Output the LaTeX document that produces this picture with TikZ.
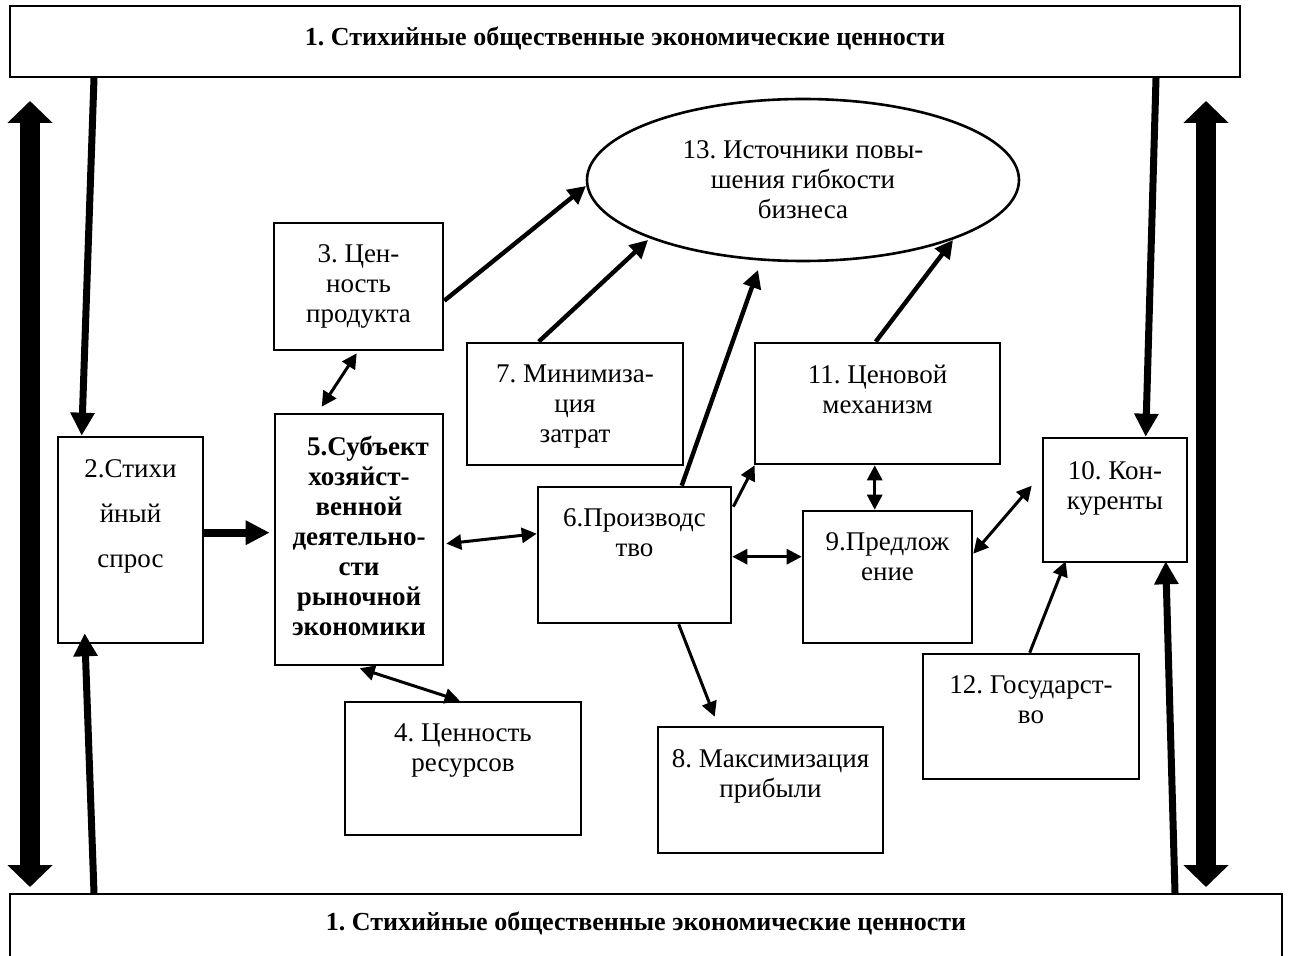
\documentclass[tikz,border=0pt]{standalone}
\usepackage{fontspec}
\setmainfont{Liberation Serif}
\usetikzlibrary{arrows.meta,fit,calc,shapes.geometric}
\frenchspacing
\newcommand\myfs{\fontsize{13.5pt}{15pt}\selectfont}
\newcommand\myfswide{\fontsize{13.5pt}{22.5pt}\selectfont}
\begin{document}
\begin{tikzpicture}[x=0.5pt,y=-0.5pt,
  box/.style={draw, line width=1.3pt, inner sep=0pt, fit={#1}},
  bigbox/.style={draw, line width=1pt, inner sep=0pt, fit={#1}},
  lab/.style={anchor=north, inner sep=0pt, align=center, font=\myfs, yshift=-11.5pt},
  labwide/.style={anchor=north, inner sep=0pt, align=center, font=\myfswide, yshift=-11.5pt},
  harr/.style={line width=3.5pt, -{Triangle[width=11.5pt,length=11.5pt]}},
  tarr/.style={line width=1.5pt, -{Triangle[width=7.5pt,length=7.5pt]}},
  tboth/.style={line width=1.5pt, {Triangle[width=7.5pt,length=7.5pt]}-{Triangle[width=7.5pt,length=7.5pt]}},
  marr/.style={line width=2.2pt, -{Triangle[width=9pt,length=9pt]}},
  fatboth/.style={line width=10pt, {Triangle[width=22pt,length=11pt]}-{Triangle[width=22pt,length=11pt]}},
  push/.style={line width=4pt, -{Triangle[width=11.5pt,length=12pt]}}
]
\clip (0,0) rectangle (1289,956);
\fill[white] (0,0) rectangle (1289,956);

% big boxes
\node[bigbox={(10,6) (1240,77)}, label={[lab,name=t1,yshift=1pt,font=\fontsize{13pt}{15pt}\selectfont\bfseries]north:1. Стихийные общественные экономические ценности}] (b1) {};
\node[bigbox={(10,894) (1282,990)}, label={[lab,name=t1b,yshift=2.5pt,font=\fontsize{13pt}{15pt}\selectfont\bfseries]north:1. Стихийные общественные экономические ценности}] (b1b) {};

% boxes
\node[box={(58,437) (203,643)}, label={[labwide,name=t2,yshift=-0.5pt]north:2.Стихи\\йный\\спрос}] (b2) {};
\node[box={(274,223) (443,350)}, label={[lab,name=t3]north:3. Цен-\\ность\\продукта}] (b3) {};
\node[box={(275,414) (443,665)}, label={[lab,name=t5,font=\myfs\bfseries]north:\hspace*{9pt}5.Субъект\\хозяйст-\\венной\\деятельно-\\сти\\рыночной\\экономики}] (b5) {};
\node[box={(345,702) (581,835)}, label={[lab,name=t4]north:4. Ценность\\ресурсов}] (b4) {};
\node[box={(538,487) (731,623)}, label={[lab,name=t6]north:6.Производс\\тво}] (b6) {};
\node[box={(467,343) (683,465)}, label={[lab,name=t7]north:7. Минимиза-\\ция\\затрат}] (b7) {};
\node[box={(658,727) (883,853)}, label={[lab,name=t8]north:8. Максимизация\\прибыли}] (b8) {};
\node[box={(803,511) (972,643)}, label={[lab,name=t9]north:9.Предлож\\ение}] (b9) {};
\node[box={(1043,438) (1187,562)}, label={[lab,name=t10,yshift=-0.5pt]north:10. Кон-\\куренты}] (b10) {};
\node[box={(755,343) (1000,464)}, label={[lab,name=t11]north:11. Ценовой\\механизм}] (b11) {};
\node[box={(923,654) (1139,779)}, label={[lab,name=t12]north:12. Государст-\\во}] (b12) {};
\node[draw, ellipse, line width=1.3pt, inner sep=0pt, minimum width=216pt, minimum height=81pt, align=center, font=\myfs] (e13) at (803,180) {13. Источники повы-\\шения гибкости\\бизнеса};

% free ends of the thick vertical arrows
\coordinate (lt) at (30,101);
\coordinate (lb) at (30,887);
\coordinate (rt) at (1206,101);
\coordinate (rb) at (1206,887);
\draw[fatboth] (lt) -- (lb);
\draw[fatboth] (rt) -- (rb);

% from/to big boxes
\draw[harr] ($(b1.south west)+(85,0)$) -- ($(b2.north west)+(25,0)$);
\draw[harr] ($(b1.south west)+(1147,0)$) -- ($(b10.north west)+(104,0)$);
\draw[harr] ($(b1b.north west)+(85,0)$) -- ($(b2.south west)+(28,-11)$);
\draw[harr] ($(b1b.north west)+(1166,0)$) -- ($(b10.south west)+(124,-2)$);

% demand -> subject
\draw[push] ($(b2.north east)+(0,97)$) -- ($(b5.north west)+(-4,120)$);

% thin connectors
\draw[tboth] ($(b3.south west)+(84,2)$) -- ($(b5.north west)+(48,-6)$);
\draw[tboth] ($(b5.north east)+(2,131)$) -- ($(b6.north west)+(0,48)$);
\draw[tboth] ($(b5.south west)+(86,2)$) -- ($(b4.north west)+(116,0)$);
\draw[tboth] ($(b6.north east)+(0,71)$) -- ($(b9.north west)+(0,47)$);
\draw[tboth] ($(b11.south west)+(121,0)$) -- ($(b9.north west)+(73,0)$);
\draw[tarr] ($(b6.north east)+(1,21)$) -- ($(b11.south west)+(1,0)$);
\draw[tboth] ($(b9.north east)+(0,44)$) -- ($(b10.north west)+(-10,49)$);
\draw[tarr] ($(b12.north west)+(108,0)$) -- ($(b10.south west)+(24,-2)$);
\draw[tarr] ($(b6.south west)+(142,0)$) -- ($(b8.north west)+(58,-9)$);

% to the ellipse
\draw[marr] ($(b3.north east)+(0,79)$) -- ($(e13.center)+(-217,6)$);
\draw[marr] ($(b7.north west)+(73,0)$) -- ($(e13.center)+(-155,60)$);
\draw[marr] ($(b6.north west)+(145,0)$) -- ($(e13.center)+(-45,90)$);
\draw[marr] ($(b11.north west)+(122,0)$) -- ($(e13.center)+(150,60)$);
\end{tikzpicture}
\end{document}
